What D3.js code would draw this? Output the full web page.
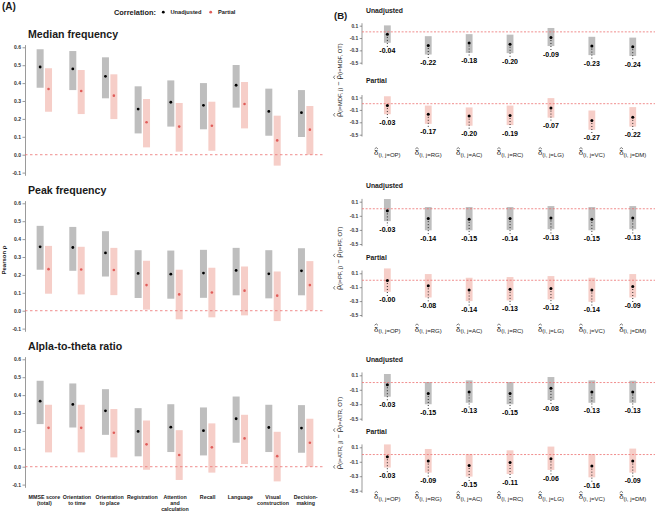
<!DOCTYPE html>
<html><head><meta charset="utf-8">
<script src="https://cdn.jsdelivr.net/npm/d3@7"></script>
<style>
body{margin:0;background:#fff}
text{font-family:"Liberation Sans",Arial,Helvetica,sans-serif;}
</style>
</head><body>
<svg id="c" width="658" height="511"></svg>
<script>
// ---------------- DATA: panel A ----------------
const catsA = [["MMSE score","(total)"],["Orientation","to time"],["Orientation","to place"],["Registration"],["Attention","and","calculation"],["Recall"],["Language"],["Visual","construction"],["Decision-","making"]];
const aTicks = [-0.1,0,0.1,0.2,0.3,0.4,0.5,0.6];
const panelTitlesA = ["Median frequency","Peak frequency","Alpla-to-theta ratio"];

const mdfUnadjEst = [0.490,0.479,0.438,0.255,0.293,0.276,0.388,0.242,0.235];
const mdfUnadjLo  = [0.374,0.361,0.315,0.119,0.157,0.142,0.263,0.106,0.099];
const mdfUnadjHi  = [0.589,0.579,0.544,0.382,0.415,0.400,0.501,0.369,0.361];
const mdfPartEst  = [0.367,0.356,0.330,0.181,0.157,0.162,0.283,0.080,0.140];
const mdfPartLo   = [0.240,0.227,0.199,0.041,0.017,0.022,0.147,-0.061,0.000];
const mdfPartHi   = [0.483,0.473,0.449,0.311,0.289,0.296,0.406,0.218,0.272];

const pfUnadjEst = [0.357,0.353,0.323,0.208,0.204,0.210,0.225,0.206,0.223];
const pfUnadjLo  = [0.229,0.223,0.191,0.071,0.067,0.072,0.086,0.069,0.086];
const pfUnadjHi  = [0.474,0.468,0.444,0.338,0.336,0.340,0.351,0.338,0.349];
const pfPartEst  = [0.232,0.230,0.227,0.143,0.091,0.102,0.112,0.084,0.143];
const pfPartLo   = [0.095,0.091,0.087,0.006,-0.048,-0.037,-0.026,-0.058,0.002];
const pfPartHi   = [0.362,0.357,0.351,0.279,0.229,0.240,0.247,0.219,0.277];

const atrUnadjEst = [0.366,0.348,0.312,0.197,0.221,0.201,0.268,0.219,0.216];
const atrUnadjLo  = [0.238,0.219,0.178,0.058,0.082,0.063,0.134,0.082,0.078];
const atrUnadjHi  = [0.480,0.465,0.433,0.327,0.349,0.331,0.392,0.346,0.344];
const atrPartEst  = [0.217,0.217,0.190,0.125,0.065,0.108,0.158,0.059,0.134];
const atrPartLo   = [0.080,0.080,0.052,-0.017,-0.074,-0.033,0.015,-0.082,0.000];
const atrPartHi   = [0.346,0.346,0.322,0.258,0.204,0.242,0.290,0.195,0.268];

// ---------------- DATA: panel B ----------------
const bCats = ["OP","RG","AC","RC","LG","VC","DM"];
const bTicks = [0.1,-0.1,-0.3,-0.5];
const bCodes = ["MDF","PF","ATR"];

const bMdfUEst = [-0.04,-0.22,-0.18,-0.20,-0.09,-0.23,-0.24];
const bMdfULo  = [-0.177,-0.367,-0.340,-0.345,-0.230,-0.377,-0.390];
const bMdfUHi  = [0.105,-0.070,-0.037,-0.045,0.063,-0.080,-0.093];
const bMdfPEst = [-0.03,-0.17,-0.20,-0.19,-0.07,-0.27,-0.22];
const bMdfPLo  = [-0.170,-0.325,-0.355,-0.345,-0.225,-0.420,-0.370];
const bMdfPHi  = [0.120,-0.030,-0.060,-0.030,0.090,-0.110,-0.055];

const bPfUEst = [-0.03,-0.14,-0.15,-0.14,-0.13,-0.15,-0.13];
const bPfULo  = [-0.176,-0.305,-0.305,-0.300,-0.290,-0.305,-0.290];
const bPfUHi  = [0.138,0.024,0.024,0.024,0.038,0.024,0.038];
const bPfPEst = [-0.004,-0.08,-0.14,-0.13,-0.12,-0.14,-0.09];
const bPfPLo  = [-0.166,-0.248,-0.300,-0.290,-0.276,-0.310,-0.248];
const bPfPHi  = [0.170,0.089,0.036,0.046,0.060,0.036,0.089];

const bAtrUEst = [-0.03,-0.15,-0.13,-0.15,-0.08,-0.13,-0.13];
const bAtrULo  = [-0.196,-0.300,-0.280,-0.300,-0.242,-0.280,-0.280];
const bAtrUHi  = [0.118,0.007,0.030,0.007,0.076,0.030,0.025];
const bAtrPEst = [-0.03,-0.09,-0.15,-0.11,-0.06,-0.16,-0.09];
const bAtrPLo  = [-0.180,-0.250,-0.305,-0.270,-0.213,-0.315,-0.250];
const bAtrPHi  = [0.140,0.077,0.008,0.058,0.110,0.008,0.082];

// ---------------- STYLE ----------------
const GRAY = "#bebebe", PINK = "#f6cec8", PINKDOT = "#e05d5a", DASH = "#ec7070", TXT = "#1a1a1a", AXC = "#555";

const svg = d3.select("#c");

// ================= PANEL A =================
svg.append("text").attr("x",2).attr("y",10).attr("font-size",10).attr("font-weight","bold").attr("fill",TXT).text("(A)");
// legend
svg.append("text").attr("x",114).attr("y",14.6).attr("font-size",7.4).attr("font-weight","bold").attr("fill",TXT).text("Correlation:");
svg.append("circle").attr("cx",163.3).attr("cy",12.2).attr("r",1.4).attr("fill","#000");
svg.append("text").attr("x",170.5).attr("y",14.2).attr("font-size",5.7).attr("font-weight","bold").attr("fill",TXT).text("Unadjusted");
svg.append("circle").attr("cx",210.7).attr("cy",12.2).attr("r",1.4).attr("fill",PINKDOT);
svg.append("text").attr("x",218).attr("y",14.2).attr("font-size",5.7).attr("font-weight","bold").attr("fill",TXT).text("Partial");

const xA = d3.scaleBand().domain(d3.range(catsA.length)).range([28,322]);
const aSeries = [
  {u:[mdfUnadjEst,mdfUnadjLo,mdfUnadjHi], p:[mdfPartEst,mdfPartLo,mdfPartHi]},
  {u:[pfUnadjEst,pfUnadjLo,pfUnadjHi], p:[pfPartEst,pfPartLo,pfPartHi]},
  {u:[atrUnadjEst,atrUnadjLo,atrUnadjHi], p:[atrPartEst,atrPartLo,atrPartHi]}
];
const aTops = [44.6, 200.6, 356.6];
const aH = 130.7;

aSeries.forEach((s, k) => {
  const top = aTops[k];
  const y = d3.scaleLinear().domain([-0.115, 0.615]).range([top + aH, top]);
  const g = svg.append("g");
  g.append("text").attr("x",28).attr("y",top-7).attr("font-size",10.6).attr("font-weight","bold").attr("fill",TXT).text(panelTitlesA[k]);
  const ax = g.append("g").attr("transform","translate(25,0)")
    .call(d3.axisLeft(y).tickValues(aTicks).tickFormat(d => d.toFixed(1)).tickSize(2.5).tickSizeOuter(0).tickPadding(1.5));
  ax.select(".domain").attr("stroke",AXC).attr("stroke-width",0.6);
  ax.selectAll(".tick line").attr("stroke",AXC).attr("stroke-width",0.6);
  ax.selectAll(".tick text").attr("font-size",5).attr("font-weight","bold").attr("fill","#333").attr("font-family","Liberation Sans, Arial, sans-serif");
  const idx = d3.range(catsA.length);
  g.selectAll(".gb").data(idx).join("rect")
    .attr("x", i => xA(i) + xA.bandwidth()/2 - 7.7).attr("width",7)
    .attr("y", i => y(s.u[2][i])).attr("height", i => y(s.u[1][i]) - y(s.u[2][i]))
    .attr("fill",GRAY);
  g.selectAll(".pb").data(idx).join("rect")
    .attr("x", i => xA(i) + xA.bandwidth()/2 + 0.7).attr("width",7)
    .attr("y", i => y(s.p[2][i])).attr("height", i => y(s.p[1][i]) - y(s.p[2][i]))
    .attr("fill",PINK);
  g.append("line").attr("x1",25).attr("x2",325).attr("y1",y(0)).attr("y2",y(0))
    .attr("stroke",DASH).attr("stroke-width",0.8).attr("stroke-dasharray","2.5,2.5");
  g.selectAll(".gd").data(idx).join("circle")
    .attr("cx", i => xA(i) + xA.bandwidth()/2 - 4.2).attr("cy", i => y(s.u[0][i])).attr("r",1.4).attr("fill","#000");
  g.selectAll(".pd").data(idx).join("circle")
    .attr("cx", i => xA(i) + xA.bandwidth()/2 + 4.2).attr("cy", i => y(s.p[0][i])).attr("r",1.3).attr("fill",PINKDOT);
});
svg.append("text").attr("transform","translate(6,260) rotate(-90)").attr("text-anchor","middle")
  .attr("font-size",6).attr("font-weight","bold").attr("fill",TXT).text("Pearson \u03C1");
catsA.forEach((lines, i) => {
  const t = svg.append("text").attr("text-anchor","middle").attr("font-size",5.3).attr("font-weight","bold").attr("fill",TXT);
  lines.forEach((ln, j) => {
    t.append("tspan").attr("x", xA(i) + xA.bandwidth()/2).attr("y", 498.6 + j*6).text(ln);
  });
});

// ================= PANEL B =================
svg.append("text").attr("x",334).attr("y",18.5).attr("font-size",9.6).attr("font-weight","bold").attr("fill",TXT).text("(B)");

function mathText(parent, x, y, rot, parts) {
  const g = parent.append("g").attr("transform", `translate(${x},${y}) rotate(${rot})`);
  const txt = g.append("text").attr("x",0).attr("y",0).attr("fill",TXT);
  let cur = 0;
  parts.forEach(p => {
    const sp = txt.append("tspan").attr("font-size", p.size).text(p.t);
    const want = p.dy || 0;
    if (want - cur !== 0) sp.attr("dy", want - cur);
    cur = want;
    if (p.bold) sp.attr("font-weight","bold");
  });
  const node = txt.node();
  const w = node.getComputedTextLength();
  txt.attr("x", -w/2);
  let off = 0;
  parts.forEach(p => {
    if (p.hat) {
      const e = node.getExtentOfChar(off);
      const cx = e.x + e.width/2;
      const hy = p.hatY;
      g.append("path").attr("d", `M${cx-1.7},${hy+1.1}L${cx},${hy-0.3}L${cx+1.7},${hy+1.1}`)
        .attr("fill","none").attr("stroke",TXT).attr("stroke-width",0.6);
    }
    off += p.t.length;
  });
  return g;
}

const xB = d3.scaleBand().domain(d3.range(bCats.length)).range([366.9,653.2]);
const bSeries = [
  [[bMdfUEst,bMdfULo,bMdfUHi],[bMdfPEst,bMdfPLo,bMdfPHi]],
  [[bPfUEst,bPfULo,bPfUHi],[bPfPEst,bPfPLo,bPfPHi]],
  [[bAtrUEst,bAtrULo,bAtrUHi],[bAtrPEst,bAtrPLo,bAtrPHi]]
];
const bLayout = [
  {xlabY:155.2, panels:[{titleY:12.5, t:25.7, b:62.7},{titleY:82.5, t:97.5, b:134.7}]},
  {xlabY:331.5, panels:[{titleY:188.2, t:201.7, b:244.0},{titleY:259.6, t:273.3, b:315.0}]},
  {xlabY:499.0, panels:[{titleY:362.2, t:375.3, b:418.7},{titleY:434.0, t:447.3, b:490.7}]}
];
const panelNames = ["Unadjusted","Partial"];

bSeries.forEach((sub, k) => {
  const L = bLayout[k];
  sub.forEach((ser, m) => {
    const P = L.panels[m];
    const y = d3.scaleLinear().domain([-0.5, 0.1]).range([P.b, P.t]);
    const g = svg.append("g");
    g.append("text").attr("x",366).attr("y",P.titleY).attr("font-size",6.8).attr("font-weight","bold").attr("fill",TXT).text(panelNames[m]);
    const ax = g.append("g").attr("transform","translate(362,0)")
      .call(d3.axisLeft(y).tickValues(bTicks).tickFormat(d => d.toFixed(1)).tickSize(2.3).tickSizeOuter(0).tickPadding(1.5));
    ax.select(".domain").remove();
    ax.selectAll(".tick line").attr("stroke",AXC).attr("stroke-width",0.6);
    ax.selectAll(".tick text").attr("font-size",4.9).attr("font-weight","bold").attr("fill","#333").attr("font-family","Liberation Sans, Arial, sans-serif");
    g.append("line").attr("x1",362).attr("x2",362).attr("y1",y(0.14)).attr("y2",y(-0.53)).attr("stroke",AXC).attr("stroke-width",0.6);
    const idx = d3.range(bCats.length);
    const cx = i => xB(i) + xB.bandwidth()/2;
    g.selectAll(".bb").data(idx).join("rect")
      .attr("x", i => cx(i) - 3.4).attr("width",6.8)
      .attr("y", i => y(ser[2][i])).attr("height", i => y(ser[1][i]) - y(ser[2][i]))
      .attr("fill", m === 0 ? GRAY : PINK);
    g.append("line").attr("x1",362).attr("x2",655).attr("y1",y(0)).attr("y2",y(0))
      .attr("stroke",DASH).attr("stroke-width",0.8).attr("stroke-dasharray","2,1.6");
    g.selectAll(".dl").data(idx).join("line")
      .attr("x1",cx).attr("x2",cx)
      .attr("y1", i => y(ser[0][i]) + 2.6).attr("y2", i => y(ser[1][i]) + 4.6)
      .attr("stroke","#000").attr("stroke-width",0.9).attr("stroke-dasharray","0.9,2.1");
    g.selectAll(".bd").data(idx).join("circle")
      .attr("cx",cx).attr("cy", i => y(ser[0][i])).attr("r",1.5).attr("fill","#000");
    g.selectAll(".vl").data(idx).join("text")
      .attr("x",cx).attr("y", i => y(ser[1][i]) + 10.6).attr("text-anchor","middle")
      .attr("font-size",7).attr("font-weight","bold").attr("fill","#000")
      .text(i => ser[0][i].toFixed(2));
  });
  bCats.forEach((c, i) => {
    mathText(svg, xB(i) + xB.bandwidth()/2, L.xlabY, 0, [
      {t:"\u03B4", size:7.8, hat:true, hatY:-7.3},
      {t:"(i, j=" + c + ")", size:6, dy:1.6}
    ]);
  });
  const code = bCodes[k];
  const midY = (L.panels[0].t + L.panels[1].b) / 2;
  mathText(svg, 340.5, midY, -90, [
    {t:"\u03C1", size:7.8, hat:true, hatY:-6.7},
    {t:"(i=" + code + ", j)", size:5.8, dy:1.6},
    {t:"\u00A0\u2212\u00A0", size:7.2, dy:0},
    {t:"\u03C1", size:7.8, hat:true, hatY:-6.7},
    {t:"(i=" + code + ", OT)", size:5.8, dy:1.6}
  ]);
});
</script>
</body></html>
